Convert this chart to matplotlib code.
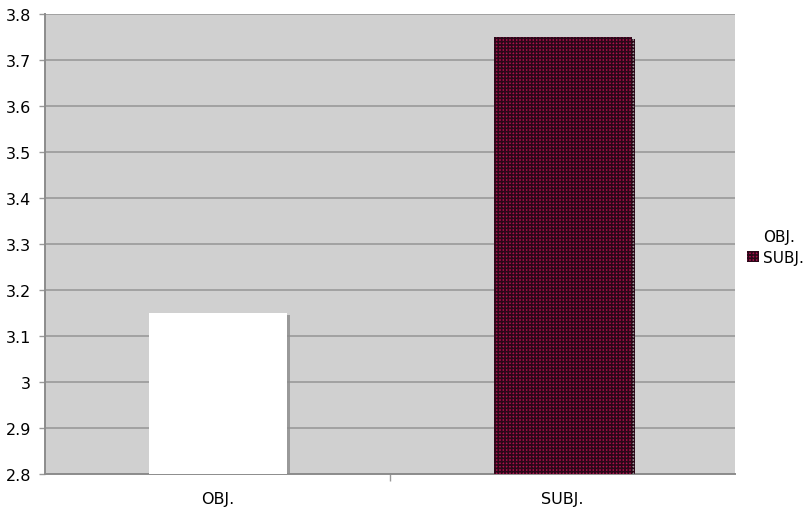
import matplotlib
matplotlib.use("Agg")
import matplotlib.pyplot as plt
import matplotlib.patheffects as pe
from matplotlib.patches import Patch

categories = ["OBJ.", "SUBJ."]
values = [3.15, 3.75]
yticks = [2.8, 2.9, 3.0, 3.1, 3.2, 3.3, 3.4, 3.5, 3.6, 3.7, 3.8]
ytick_labels = ["2.8", "2.9", "3", "3.1", "3.2", "3.3", "3.4", "3.5", "3.6", "3.7", "3.8"]

plt.rcParams['font.family'] = ['DejaVu Sans']
plt.rcParams['hatch.linewidth'] = 1.2
plt.rcParams['hatch.color'] = '#2a0818'

fig = plt.figure(figsize=(8.08, 5.10), dpi=100)
ax = fig.add_axes([45/808, 1 - 475/510, (735-45)/808, (475-15)/510])
ax.set_facecolor('#d0d0d0')

x = list(range(len(categories)))
shadow = [pe.SimplePatchShadow(offset=(2.2, -1.5), shadow_rgbFace='#8c8c8c', alpha=0.8), pe.Normal()]
b1 = ax.bar(x[0], values[0] - 2.8, bottom=2.8, width=0.4, color='white', edgecolor='none', zorder=3)
b2 = ax.bar(x[1], values[1] - 2.8, bottom=2.8, width=0.4, color='#b0104e', edgecolor='#2a0818',
            linewidth=0, hatch='+++++', zorder=3)
for b in list(b1) + list(b2):
    b.set_path_effects(shadow)

ax.set_xlim(-0.5, 1.5)
ax.set_ylim(2.8, 3.8)
ax.set_yticks(yticks)
ax.set_yticklabels(ytick_labels)
ax.yaxis.grid(True, color='#999999', linewidth=1.2, zorder=1)
ax.set_axisbelow(True)

ax.set_xticks(x)
ax.set_xticklabels(categories)
ax.tick_params(axis='x', length=0, pad=12, labelsize=11.5)
ax.set_xticks([0.5], minor=True)
ax.tick_params(axis='x', which='minor', length=5, color='#999999', width=1)
ax.tick_params(axis='y', length=4, color='#999999', width=1, labelsize=11.5, pad=6)

for s in ['top', 'right']:
    ax.spines[s].set_visible(False)
for s in ['left', 'bottom']:
    ax.spines[s].set_color('#8c8c8c')
    ax.spines[s].set_linewidth(1.4)

handles = [Patch(facecolor='white', edgecolor='none'),
           Patch(facecolor='#b0104e', edgecolor='#2a0818', linewidth=0, hatch='+++++')]
leg = fig.legend(handles, categories, loc='center left', bbox_to_anchor=(741/808, 1 - 248/510),
                 frameon=False, fontsize=11, handlelength=0.75, handleheight=0.75,
                 handletextpad=0.3, labelspacing=0.35, borderaxespad=0)

fig.savefig('out.png', dpi=100)
